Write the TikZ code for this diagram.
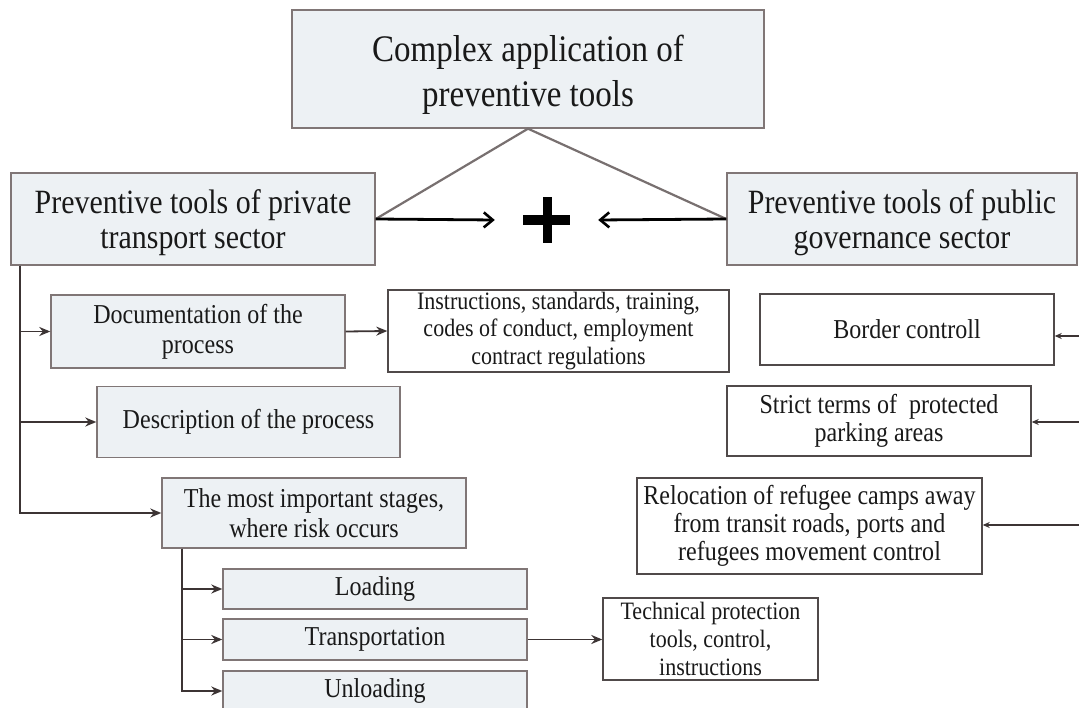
\documentclass[tikz,border=0pt]{standalone}
\usepackage{fontspec}
\setmainfont{Liberation Serif}[FakeStretch=0.88]
\usetikzlibrary{arrows.meta,calc}
\definecolor{boxfill}{RGB}{237,241,244}
\definecolor{boxline}{RGB}{128,118,118}
\definecolor{wline}{RGB}{80,74,74}
\definecolor{connc}{RGB}{60,52,52}
\definecolor{tric}{RGB}{120,112,112}
\definecolor{txt}{RGB}{25,25,25}
\newcommand\fsz[2]{\fontsize{#1}{#2}\selectfont}
\tikzset{
  lbox/.style={draw=boxline, fill=boxfill, line width=1.4pt, inner sep=0pt, align=center, text=txt, font=\fsz{27.3}{30}},
  wbox/.style={draw=wline, fill=white, line width=1.4pt, inner sep=0pt, align=center, text=txt, font=\fsz{27.3}{28}},
  conn/.style={draw=connc, line width=1.8pt, -{Stealth[length=11pt,width=9pt]}},
  rconn/.style={draw=connc, line width=1.6pt, -{Stealth[length=7pt,width=6pt]}},
  mainarrow/.style={draw=black, line width=2.8pt, -{Straight Barb[length=9pt,width=15pt,line width=2.6pt]}},
  triline/.style={draw=tric, line width=2.2pt},
}
\begin{document}
\begin{tikzpicture}[x=1pt,y=-1pt]
\clip (0,0) rectangle (1079,708);
\fill[white] (0,0) rectangle (1079,708);

% top
\node[lbox, minimum width=472pt, minimum height=118pt, font=\fsz{37.5}{45}] (top) at (528,69)
  {\rule{0pt}{38pt}Complex application of\\preventive tools};
% headers
\node[lbox, minimum width=364pt, minimum height=92pt, font=\fsz{34}{35}] (left) at (193,219)
  {\rule{0pt}{32pt}Preventive tools of private\\transport sector};
\node[lbox, minimum width=350pt, minimum height=92pt, font=\fsz{34}{35}] (right) at (902,219)
  {\rule{0pt}{32pt}Preventive tools of public\\governance sector};

% plus
\node[minimum width=103pt, minimum height=46pt, inner sep=0pt] (plus) at (546.5,220) {};
\fill[black] (523,215.5) rectangle (570,225);
\fill[black] (542.5,197) rectangle (552,243);

\draw[triline] (left.east) -- (top.south) -- (right.west);
\draw[mainarrow] (left.east) -- (plus.west);
\draw[mainarrow] (right.west) -- (plus.east);

% private side
\node[lbox, minimum width=294pt, minimum height=73pt] (doc) at (198,331.5)
  {Documentation of the\\process};
\node[wbox, minimum width=341pt, minimum height=82pt, font=\fsz{25}{27.5}] (instr) at (558.5,331)
  {Instructions, standards, training,\\codes of conduct, employment\\contract regulations};
\node[lbox, minimum width=303pt, minimum height=71pt] (desc) at (248.5,422)
  {Description of the process};
\node[lbox, minimum width=304pt, minimum height=70pt] (most) at (314,513)
  {The most important stages,\\where risk occurs};

\node[lbox, minimum width=304pt, minimum height=40pt] (load) at (375,589)
  {Loading};
\node[lbox, minimum width=304pt, minimum height=41pt] (trans) at (375,639.5)
  {Transportation};
\node[lbox, minimum width=304pt, minimum height=40pt] (unload) at (375,691)
  {Unloading};
\node[wbox, minimum width=215pt, minimum height=82pt, font=\fsz{25}{28}] (tech) at (710.5,639)
  {Technical protection\\tools, control,\\instructions};

\draw[conn] ([xshift=10pt]left.south west) |- (doc.west);
\draw[conn] ([xshift=10pt]left.south west) |- (desc.west);
\draw[conn] ([xshift=10pt]left.south west) |- (most.west);
\draw[conn] (doc.east) -- (instr.west);
\draw[conn] ([xshift=21pt]most.south west) |- (load.west);
\draw[conn] ([xshift=21pt]most.south west) |- (trans.west);
\draw[conn] ([xshift=21pt]most.south west) |- (unload.west);
\draw[conn] (trans.east) -- (trans.east -| tech.west);

% public side
\node[wbox, minimum width=294pt, minimum height=71pt] (border) at (907,329.5)
  {Border controll};
\node[wbox, minimum width=304pt, minimum height=70pt] (strict) at (879,421)
  {Strict terms of\ \ protected\\parking areas};
\node[wbox, minimum width=345pt, minimum height=96pt] (reloc) at (809.5,526)
  {Relocation of refugee camps away\\from transit roads, ports and\\refugees movement control};

\coordinate (r1) at (1079,336);
\coordinate (r2) at (1079,422);
\coordinate (r3) at (1079,525);
\draw[rconn] (r1) -- (r1 -| border.east);
\draw[rconn] (r2) -- (r2 -| strict.east);
\draw[rconn] (r3) -- (r3 -| reloc.east);
\end{tikzpicture}
\end{document}
